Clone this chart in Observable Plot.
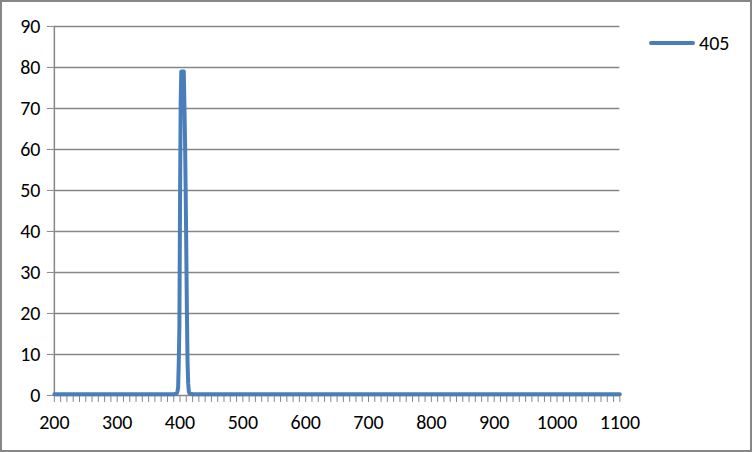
<!DOCTYPE html>
<html><head><meta charset="utf-8">
<script src="https://cdn.jsdelivr.net/npm/d3@7"></script>
<script src="https://cdn.jsdelivr.net/npm/@observablehq/plot@0.6"></script>
<style>
html,body{margin:0;padding:0;background:#fff;}
#wrap{position:relative;width:752px;height:452px;box-sizing:border-box;border:2px solid #868686;overflow:hidden;}
#chart{position:absolute;left:-2px;top:-2px;}
#legend{position:absolute;left:647px;top:29px;font-family:Carlito,Lato,"Open Sans",sans-serif;font-size:20px;color:#000;display:flex;align-items:center;}
#legend span.sw{display:inline-block;width:46px;height:4px;border-radius:2px;background:#4A7EBB;margin-right:4px;}
</style></head>
<body><div id="wrap"><div id="chart"></div><div id="legend"><span class="sw"></span><span>405</span></div></div>
<script>
const seriesName = "405";
const wavelength = [200, 300, 380, 390, 394, 395, 396, 397, 398, 399, 400, 401, 402, 403, 404, 405, 406, 407, 408, 409, 410, 411, 412, 413, 414, 415, 420, 500, 700, 900, 1100];
const intensity  = [0.3, 0.3, 0.3, 0.3, 0.4, 0.6, 1, 2, 8, 17, 46, 71, 79, 78.5, 79, 78, 79, 71, 62, 50, 35, 20, 8, 3, 1, 0.5, 0.3, 0.3, 0.3, 0.3, 0.3];
const yTicks = [0, 10, 20, 30, 40, 50, 60, 70, 80, 90];
const xLabelTicks = [200, 300, 400, 500, 600, 700, 800, 900, 1000, 1100];
const xMinorTicks = d3.range(200, 1101, 10);

const data = wavelength.map((w, i) => ({w, v: intensity[i]}));
const grey = "#868686";
const font = "Carlito, Lato, 'Open Sans', sans-serif";

const chart = Plot.plot({
  width: 752, height: 452,
  marginLeft: 54, marginRight: 131, marginTop: 26, marginBottom: 56,
  style: {fontFamily: font, fontSize: "20px", color: "#000", background: "transparent"},
  x: {domain: [200, 1100]},
  y: {domain: [0, 90]},
  marks: [
    Plot.ruleY(yTicks.filter(d => d > 0), {stroke: grey, strokeWidth: 1.5}),
    Plot.ruleX([200], {stroke: grey, strokeWidth: 1.5}),
    Plot.axisY({ticks: yTicks, tickSize: 7, tickPadding: 7, stroke: grey, label: null, fontSize: 20, tickFormat: d => String(d)}),
    Plot.axisX({ticks: xMinorTicks, tickSize: 7, tickFormat: () => "", stroke: grey, label: null}),
    Plot.axisX({ticks: xLabelTicks, tickSize: 0, tickPadding: 19, label: null, fontSize: 20, tickFormat: d => String(d)}),
    Plot.ruleY([0], {stroke: grey, strokeWidth: 1.5}),
    Plot.line(data, {x: "w", y: "v", stroke: "#4A7EBB", strokeWidth: 4, strokeLinejoin: "round", strokeLinecap: "round"})
  ]
});
document.getElementById("chart").appendChild(chart);
</script></body></html>
